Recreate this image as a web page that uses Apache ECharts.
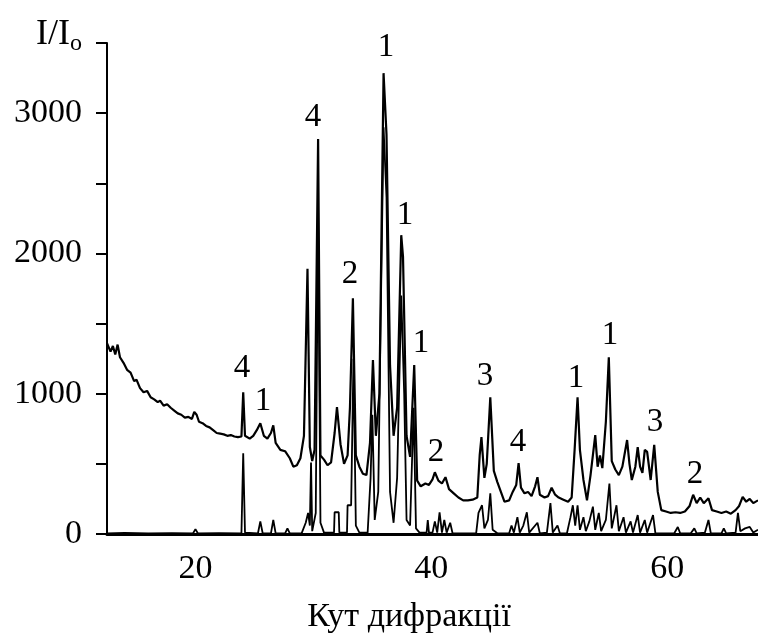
<!DOCTYPE html>
<html>
<head>
<meta charset="utf-8">
<script src="https://cdn.jsdelivr.net/npm/echarts@6/dist/echarts.min.js"></script>
<style>
html,body{margin:0;padding:0;background:#fff;}
#chart{width:758px;height:637px;}
</style>
</head>
<body>
<div id="chart"></div>
<script>
// Sample pattern with background (upper trace): [angle, intensity]
var upperPattern = [
[12.5,1360],[12.8,1300],[13.0,1340],[13.2,1280],[13.4,1350],[13.6,1260],[13.9,1220],[14.2,1170],[14.5,1150],[14.8,1090],
[15.0,1100],[15.3,1040],[15.6,1010],[15.9,1020],[16.2,975],[16.5,960],[16.8,940],[17.0,950],[17.3,915],[17.6,925],
[17.9,900],[18.2,880],[18.5,860],[18.8,850],[19.1,830],[19.4,835],[19.7,820],[19.9,870],[20.1,850],[20.3,800],
[20.6,790],[20.9,770],[21.2,760],[21.5,740],[21.8,720],[22.1,715],[22.4,710],[22.7,700],[23.0,705],[23.3,695],
[23.6,690],[23.9,695],[24.05,1010],[24.2,700],[24.6,680],[24.9,700],[25.2,740],[25.5,790],[25.8,700],[26.1,680],
[26.4,720],[26.6,775],[26.8,650],[27.2,600],[27.6,590],[28.0,540],[28.3,480],[28.6,490],[28.9,540],[29.2,700],
[29.5,1890],[29.7,620],[29.9,520],[30.1,600],[30.4,2815],[30.6,560],[30.9,530],[31.2,490],[31.5,510],[31.8,720],
[32.0,905],[32.3,640],[32.6,500],[32.9,560],[33.1,900],[33.35,1680],[33.6,560],[33.9,480],[34.2,430],[34.5,420],
[34.8,650],[35.05,1240],[35.3,700],[35.6,1000],[35.95,3285],[36.2,2850],[36.5,1200],[36.8,700],[37.1,900],[37.45,2130],
[37.6,1975],[37.9,700],[38.2,550],[38.55,1205],[38.8,380],[39.1,340],[39.5,360],[39.8,350],[40.1,390],[40.3,440],
[40.6,380],[40.9,360],[41.2,405],[41.5,320],[41.9,290],[42.3,260],[42.7,240],[43.1,240],[43.5,245],[43.9,260],
[44.1,560],[44.25,690],[44.5,400],[44.7,500],[45.0,975],[45.3,450],[45.6,370],[45.9,300],[46.2,230],[46.6,240],
[46.9,300],[47.2,350],[47.4,505],[47.6,330],[47.9,290],[48.2,300],[48.5,270],[48.8,340],[49.0,405],[49.2,280],
[49.6,260],[49.9,270],[50.2,330],[50.5,280],[50.8,260],[51.2,245],[51.6,230],[51.9,260],[52.15,600],[52.4,975],
[52.6,600],[52.9,385],[53.2,240],[53.5,420],[53.9,705],[54.1,480],[54.3,560],[54.5,470],[54.8,800],[55.05,1260],
[55.3,520],[55.6,460],[55.9,420],[56.2,480],[56.6,670],[56.8,500],[57.0,385],[57.3,480],[57.5,620],[57.7,480],
[57.9,435],[58.1,600],[58.3,585],[58.6,385],[58.9,635],[59.2,300],[59.5,170],[59.9,160],[60.3,150],[60.7,155],
[61.1,150],[61.5,160],[61.9,200],[62.2,280],[62.5,220],[62.8,260],[63.1,220],[63.5,255],[63.8,170],[64.2,160],
[64.6,150],[65.0,160],[65.4,145],[65.8,170],[66.1,200],[66.4,265],[66.7,230],[67.0,250],[67.3,220],[67.7,240]
];

// Lower trace (near-zero baseline with peaks): [angle, intensity]
var lowerPattern = [
[12.5,5],[14,8],[16,4],[18,6],[19.8,5],[20.0,35],[20.2,5],[22,6],[23.9,5],[24.05,575],[24.2,10],[25.3,5],[25.5,90],[25.7,5],
[26.4,5],[26.6,100],[26.8,5],[27.6,5],[27.8,40],[28.0,5],[29.0,5],[29.35,80],[29.55,150],[29.7,60],[29.8,510],[29.9,20],
[30.2,150],[30.4,2300],[30.6,80],[30.9,10],[31.75,10],[31.8,155],[32.15,155],[32.2,10],[32.85,10],[32.9,205],[33.2,205],
[33.4,1250],[33.6,60],[33.9,10],[34.6,10],[34.85,400],[35.0,850],[35.2,100],[35.5,300],[35.7,1500],[35.95,2900],[36.2,2400],
[36.5,300],[36.8,80],[37.1,400],[37.45,1700],[37.7,1000],[37.9,100],[38.2,60],[38.5,900],[38.7,40],[39.0,10],[39.6,10],
[39.7,100],[39.8,10],[40.1,10],[40.3,90],[40.5,10],[40.7,155],[40.9,10],[41.1,100],[41.3,10],[41.6,80],[41.8,5],[43.8,5],
[44.0,150],[44.3,205],[44.5,40],[44.8,100],[45.0,290],[45.2,30],[45.6,5],[46.6,5],[46.8,60],[47.0,10],[47.3,120],[47.5,10],
[47.8,60],[48.1,155],[48.3,10],[49.0,80],[49.2,5],[49.8,10],[50.1,220],[50.3,10],[50.7,60],[50.9,5],[51.5,5],[51.8,120],
[52.0,205],[52.2,60],[52.4,205],[52.6,30],[52.9,120],[53.1,20],[53.4,90],[53.7,195],[53.9,30],[54.2,150],[54.4,20],
[54.8,100],[55.1,360],[55.3,40],[55.7,205],[55.9,20],[56.3,120],[56.5,10],[56.9,90],[57.1,10],[57.5,135],[57.7,10],
[58.1,100],[58.3,10],[58.8,135],[59.0,5],[60.6,5],[60.9,50],[61.1,5],[62.0,5],[62.3,40],[62.5,5],[63.2,10],[63.5,100],
[63.7,5],[64.6,5],[64.8,40],[65.0,5],[65.8,10],[66.0,150],[66.2,20],[66.6,40],[67.0,50],[67.3,10],[67.7,30]
];

// Phase labels above peaks: [angle, intensity, label]
var peakLabels = [
[23.95,1183,'4'],[25.73,948,'1'],[29.97,2972,'4'],[33.1,1853,'2'],[36.16,3471,'1'],[37.77,2274,'1'],
[39.13,1361,'1'],[40.4,584,'2'],[44.55,1126,'3'],[47.35,656,'4'],[52.27,1112,'1'],[55.15,1418,'1'],
[58.97,798,'3'],[62.36,428,'2']
];

var xTickLabels = [20, 40, 60];
var yTickLabels = [0, 1000, 2000, 3000];

var serif = '"Liberation Serif","DejaVu Serif",serif';
var chart = echarts.init(document.getElementById('chart'));
chart.setOption({
  animation: false,
  backgroundColor: '#fff',
  title: {
    text: '{a|I/I}{b|o}',
    left: 31,
    top: 12,
    textStyle: {
      fontWeight: 'normal',
      rich: {
        a: {fontFamily: serif, fontSize: 36, fontWeight: 'normal', color: '#000', verticalAlign: 'bottom'},
        b: {fontFamily: serif, fontSize: 24, fontWeight: 'normal', color: '#000', verticalAlign: 'bottom', padding: [0,0,-3,0]}
      }
    }
  },
  graphic: [{
    type: 'text',
    x: 409, y: 617,
    style: {text: 'Кут дифракції', font: '34px ' + serif, fill: '#000', textAlign: 'center', textVerticalAlign: 'middle'}
  }],
  grid: {left: 107, right: 0, top: 43, bottom: 103, containLabel: false},
  xAxis: {
    type: 'value', min: 12.5, max: 67.7,
    axisLine: {show: true, lineStyle: {color: '#000', width: 3}},
    axisTick: {show: false},
    splitLine: {show: false},
    axisLabel: {customValues: xTickLabels, color: '#000', fontFamily: serif, fontSize: 34, margin: 18,
                formatter: function(v){return String(v);}}
  },
  yAxis: {
    type: 'value', min: 0, max: 3500, interval: 500,
    axisLine: {show: true, lineStyle: {color: '#000', width: 2}},
    axisTick: {show: true, inside: false, length: 11, lineStyle: {color: '#000', width: 2}},
    splitLine: {show: false},
    axisLabel: {customValues: yTickLabels, color: '#000', fontFamily: serif, fontSize: 34, margin: 25,
                formatter: function(v){return String(v);}}
  },
  series: [
    {type: 'line', data: lowerPattern, symbol: 'none', lineStyle: {color: '#000', width: 1.8}, z: 2},
    {type: 'line', data: upperPattern, symbol: 'none', lineStyle: {color: '#000', width: 2.2}, z: 3},
    {type: 'scatter', data: peakLabels, symbolSize: 0, z: 4, itemStyle: {opacity: 1},
     label: {show: true, position: 'inside', formatter: function(p){return p.value[2];},
             color: '#000', opacity: 1, fontFamily: serif, fontSize: 33}}
  ]
});
</script>
</body>
</html>
